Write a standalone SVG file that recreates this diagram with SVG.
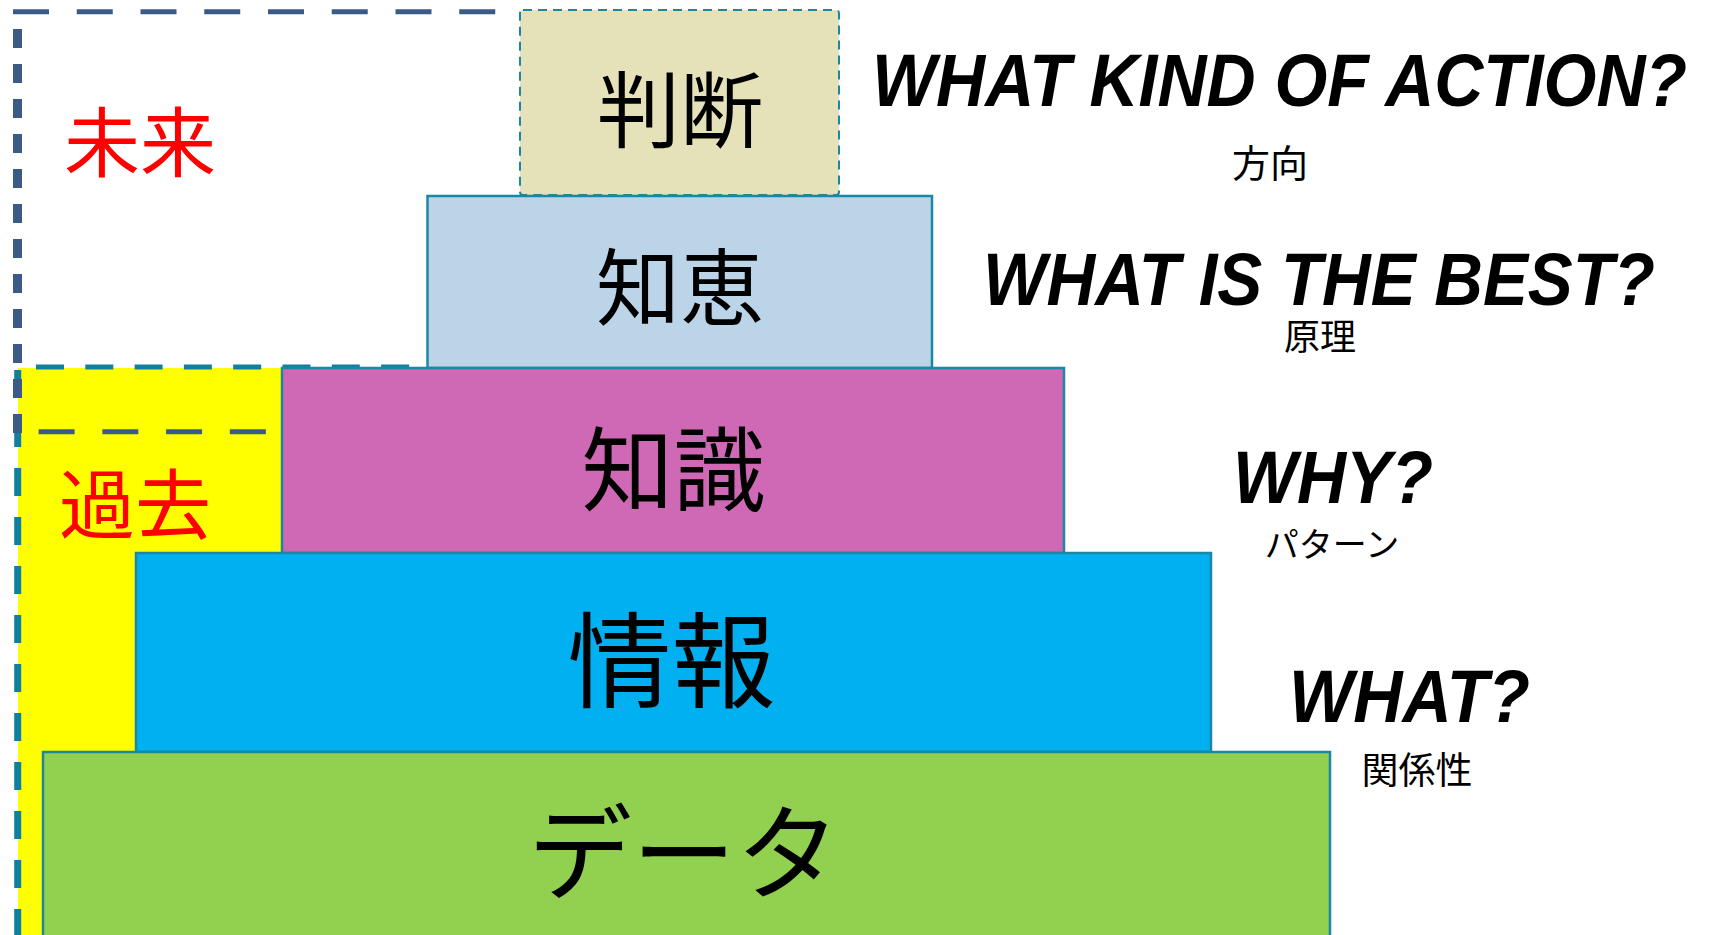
<svg xmlns="http://www.w3.org/2000/svg" width="1710" height="935" viewBox="0 0 1710 935">
<style>
.box{stroke:#1a87a4;stroke-width:2.5}
.jp{font-family:"Noto Sans CJK JP","Noto Sans",sans-serif;fill:#000;text-anchor:middle}
.en{font-family:"Liberation Sans",Arial,sans-serif;font-weight:bold;font-style:italic;fill:#000;font-size:74px}
.red{font-family:"Noto Sans CJK JP","Noto Sans",sans-serif;fill:#ff0000;font-size:76px;text-anchor:middle}
.dk{fill:none;stroke:#3b5b86}
.tl{fill:none;stroke:#11809f}
</style>
<rect x="18" y="368" width="282" height="600" fill="#ffff00"/>
<g id="past-frame">
<path class="tl" d="M36,367 H420" stroke-width="5" stroke-dasharray="28 21.3"/>
<path class="tl" d="M17.7,370 V935" stroke-width="7" stroke-dasharray="28 21"/>
</g>
<g id="future-frame">
<path class="dk" d="M13,11.7 H500" stroke-width="5" stroke-dasharray="36 27.75"/>
<path class="dk" d="M17.5,29 V436" stroke-width="9" stroke-dasharray="19 16"/>
<path class="dk" d="M38.6,431.7 H270" stroke-width="5" stroke-dasharray="36 27.75"/>
</g>
<g id="judgement">
<rect x="520" y="10" width="319" height="185" rx="3" fill="#e5e1b8" stroke="#1a87a4" stroke-width="2" stroke-dasharray="9 6"/>
<text class="jp" x="680" y="141" font-size="83">判断</text>
</g>
<g id="wisdom">
<rect class="box" x="427.5" y="196" width="504.5" height="172" fill="#bcd4e7"/>
<text class="jp" x="680" y="319" font-size="84">知恵</text>
</g>
<g id="knowledge">
<rect class="box" x="282" y="368" width="782" height="185" fill="#cf69b6"/>
<text class="jp" x="673.5" y="503.5" font-size="92">知識</text>
</g>
<g id="information">
<rect class="box" x="136" y="553" width="1075" height="199" fill="#00b0f0"/>
<text class="jp" x="671.5" y="700" font-size="104">情報</text>
</g>
<g id="data">
<rect class="box" x="43" y="752" width="1287" height="200" fill="#92d050"/>
<text class="jp" x="684" y="892" font-size="104">データ</text>
</g>
<g id="labels">
<text class="red" x="140" y="171">未来</text>
<text class="red" x="135" y="533">過去</text>
<text class="en" x="872" y="106" textLength="815" lengthAdjust="spacingAndGlyphs">WHAT KIND OF ACTION?</text>
<text class="jp" x="1270" y="177" font-size="38">方向</text>
<text class="en" x="983" y="305" textLength="672" lengthAdjust="spacingAndGlyphs">WHAT IS THE BEST?</text>
<text class="jp" x="1320" y="349.5" font-size="36">原理</text>
<text class="en" x="1233" y="503" textLength="200" lengthAdjust="spacingAndGlyphs">WHY?</text>
<text class="jp" x="1332" y="557" font-size="34">パターン</text>
<text class="en" x="1289" y="722" textLength="241" lengthAdjust="spacingAndGlyphs">WHAT?</text>
<text class="jp" x="1417" y="784.4" font-size="37">関係性</text>
</g>
</svg>
